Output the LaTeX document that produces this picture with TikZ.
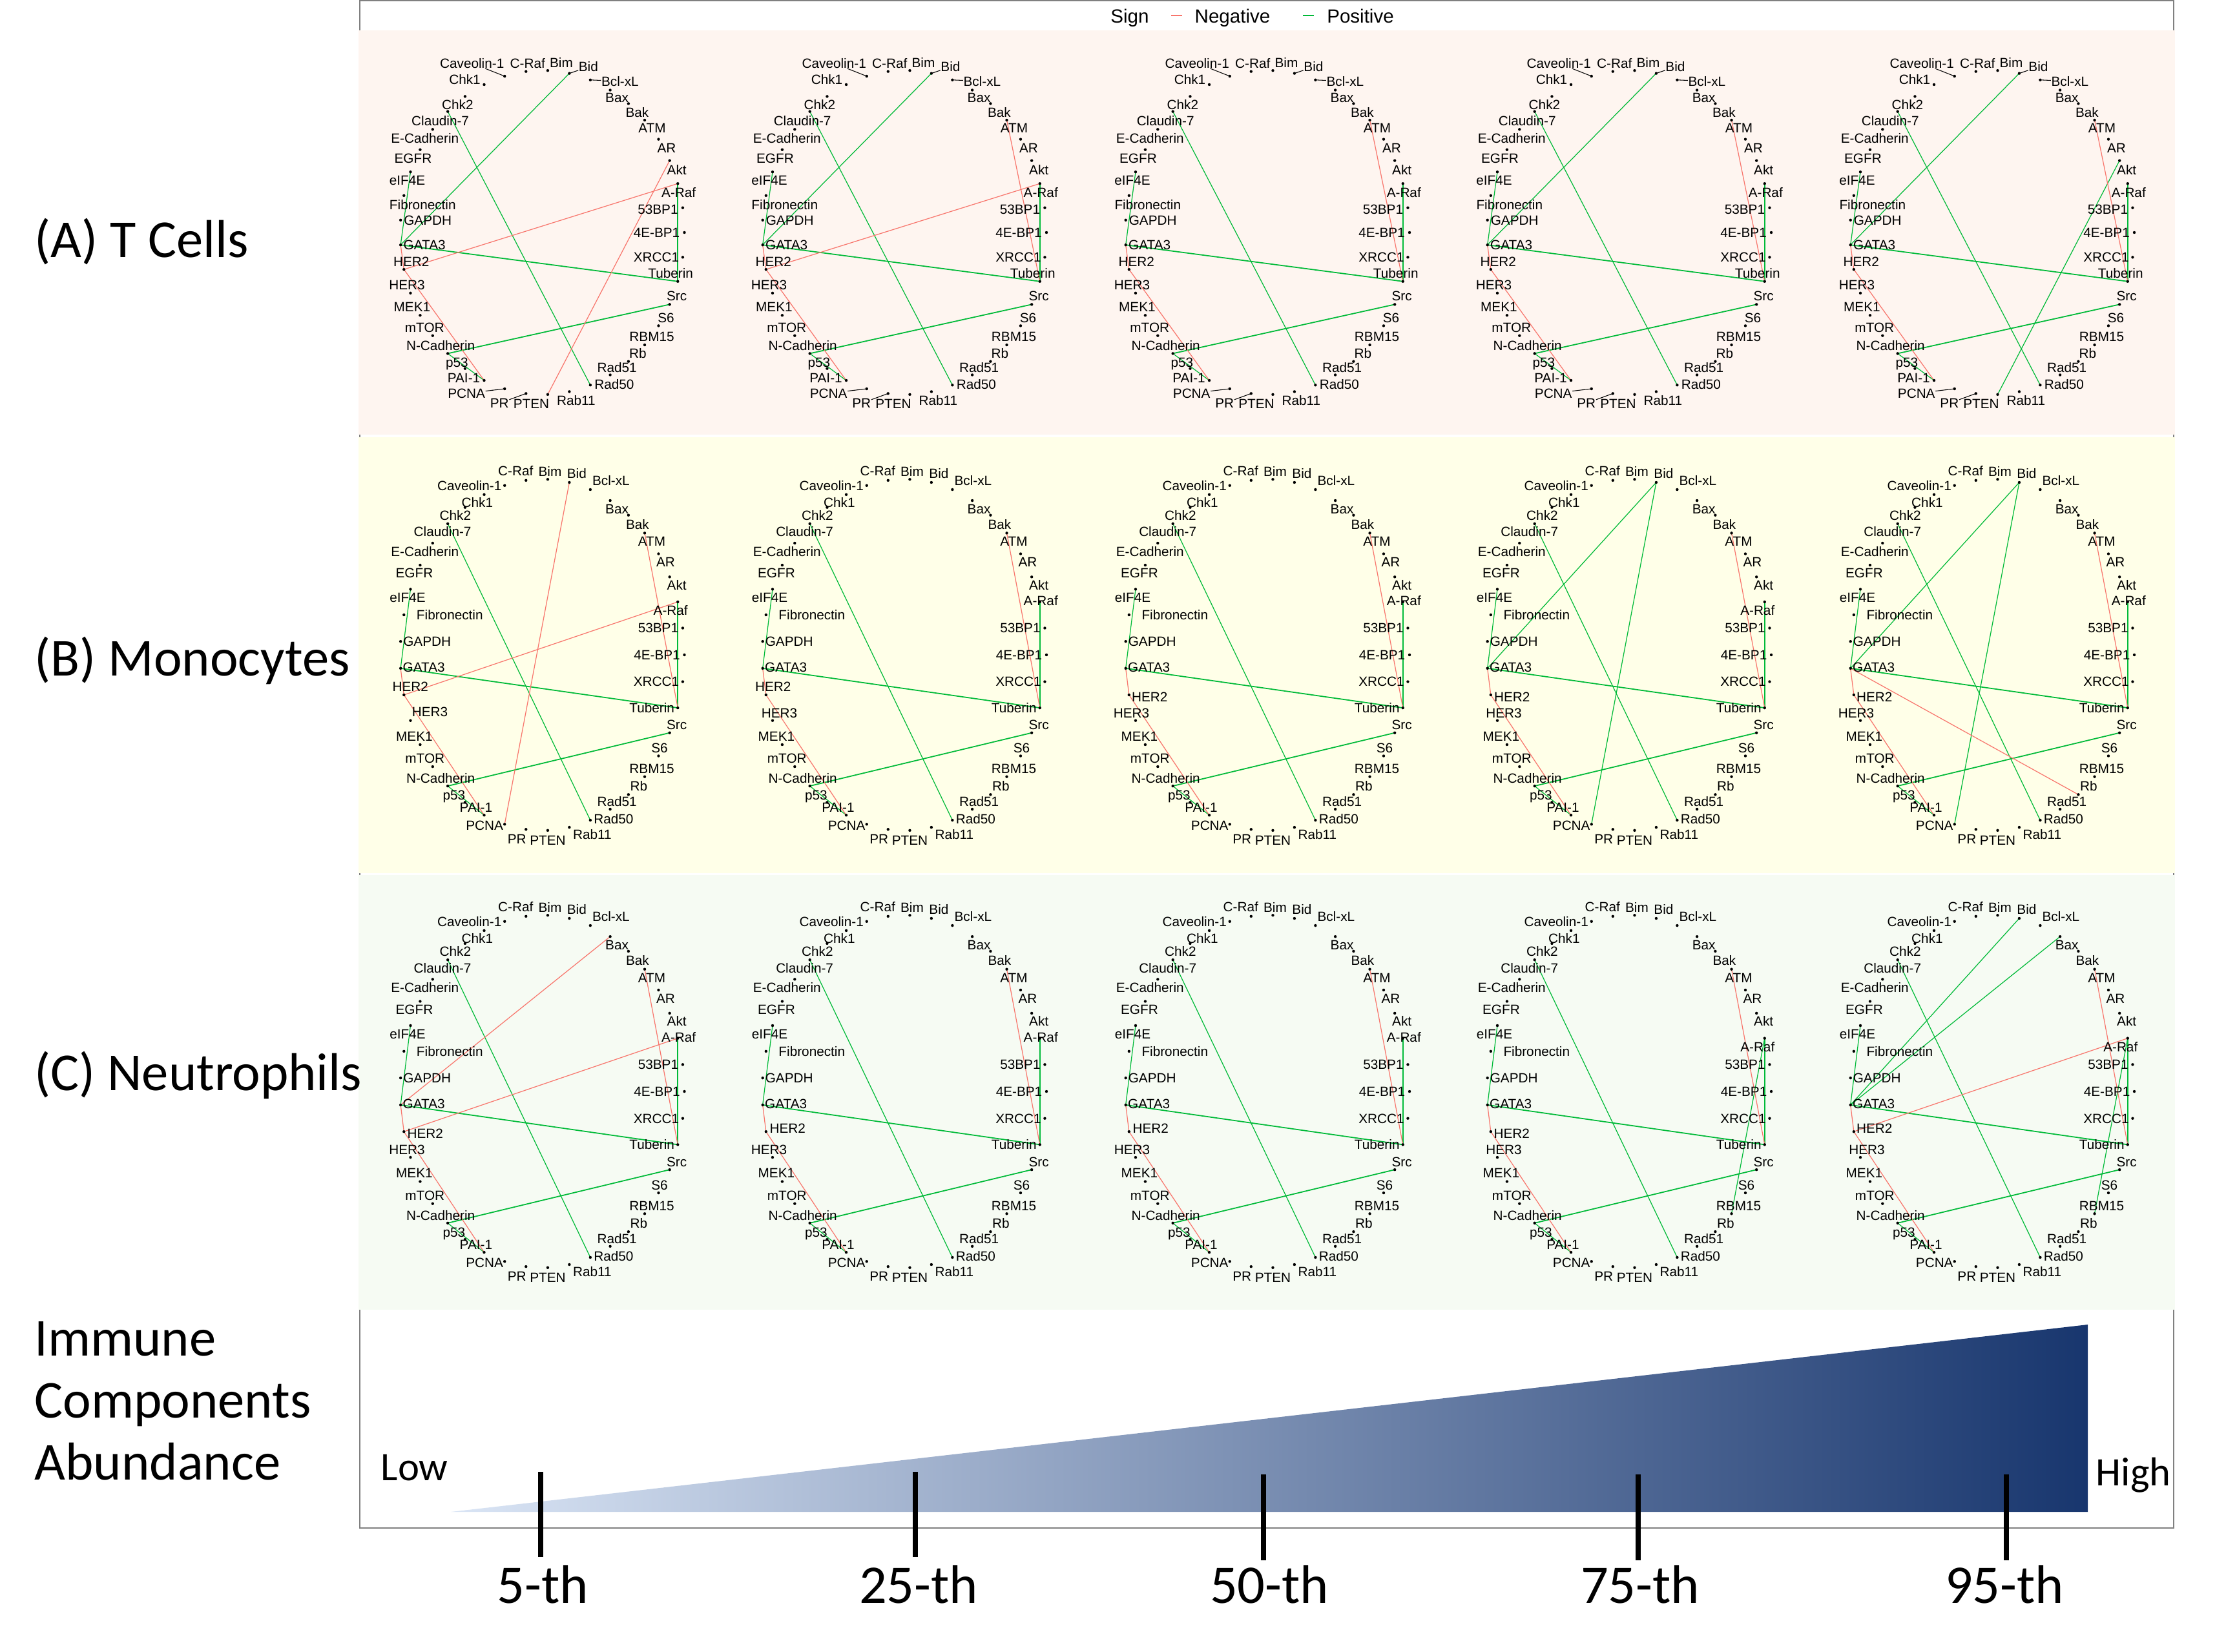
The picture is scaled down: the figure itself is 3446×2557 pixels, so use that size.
\documentclass[tikz,border=0pt]{standalone}
\usepackage{fontspec}
\setmainfont{Liberation Sans}
\newfontfamily\calfont{Carlito}
\pgfdeclarelayer{bg}
\pgfdeclarelayer{edges}
\pgfsetlayers{bg,edges,main}
\definecolor{negcol}{HTML}{F8766D}
\definecolor{poscol}{HTML}{00BA38}
\definecolor{bgA}{RGB}{254,245,240}
\definecolor{bgB}{RGB}{255,255,232}
\definecolor{bgC}{RGB}{246,251,243}
\definecolor{framegray}{RGB}{128,128,128}
\definecolor{gradL}{RGB}{218,229,245}
\definecolor{gradR}{RGB}{24,54,110}
\tikzset{
  dotnode/.style={circle,fill=black,inner sep=0pt,minimum size=1.25pt},
  netlab/.style={font=\fontsize{5.9}{6}\selectfont,inner sep=0pt,text height=4.2pt,text depth=0pt},
  leader/.style={draw=black,line width=0.3pt},
  posE/.style={draw=poscol,line width=0.35pt},
  posT/.style={draw=poscol,line width=0.5pt},
  negE/.style={draw=negcol,line width=0.35pt},
  sidelab/.style={font=\calfont\fontsize{23.5}{28}\selectfont,inner sep=0pt,anchor=base west},
  ticklab/.style={font=\calfont\fontsize{24}{28}\selectfont,inner sep=0pt,anchor=base},
  endlab/.style={font=\calfont\fontsize{17.8}{20}\selectfont,inner sep=0pt,anchor=base west},
  legtext/.style={font=\fontsize{8.4}{10}\selectfont,inner sep=0pt,anchor=base},
  tickline/.style={line width=2.3pt,draw=black},
}
\def\netnodes{0/4E-BP1/-43/0/-42.5/0, 1/53BP1/-38.5/2.5/-38/0, 2/A-Raf/1.5/14/-11/13.5, 3/Akt/11/14/11/12.5, 4/AR/12.5/14/11/13, 5/ATM/11.5/12/11/13, 6/Bak/13.5/13.5/14/14, 7/Bax/10.5/11.5/10.5/13, 8/Bcl-xL/46/2/32/-14, 9/Bid/29.5/-10/11.5/-14, 10/Bim/21/-12/3.5/-12.5, 11/C-Raf/2.5/-13/-16/-15, 12/Caveolin-1/-50.5/-20/-54.5/0, 13/Chk1/-30/-7.5/-10.6/12.4, 14/Chk2/-11.5/13/-15/12, 15/Claudin-7/-11.5/14/-8/12.6, 16/E-Cadherin/-12/13.5/-12/13, 17/EGFR/-11/13/-9/12.5, 18/eIF4E/-5/13/-4.5/13, 19/Fibronectin/29/14/71/0, 20/GAPDH/42/0/41/0, 21/GATA3/37/0/36/-2, 22/HER2/11.5/-12.4/10/-13, 23/HER3/-5.5/-12.5/30/-13.7, 24/MEK1/-12.5/-13/-9/-13, 25/mTOR/-12.5/-13/-12/-13, 26/N-Cadherin/-11/-12.5/-11/-12, 27/p53/-12.5/-10/-17/-11.5, 28/PAI-1/-31.5/-4/-12.6/-11.7, 29/PCNA/-59/7/-31/1.5, 30/PR/-41/15/-14/14.5, 31/PTEN/-25.5/14/0/15.6, 32/Rab11/10.5/14/35.5/10.7, 33/Rad50/37/-1/36/-2, 34/Rad51/10.5/-11/10.5/-12, 35/Rb/14.5/-13/16/-13, 36/RBM15/11/-13/11/-12.6, 37/S6/11.5/-12/1.5/-12, 38/Src/11/-13/11/-12.5, 39/Tuberin/-11/-13/-40/0, 40/XRCC1/-41/0/-41/0}
\newcommand\setov[6]{\def\oAx{#1}\def\oAy{#2}\def\oBx{#3}\def\oBy{#4}\def\oCx{#5}\def\oCy{#6}}
\newcommand\netpanel[5]{%
  \foreach \i/\lab/\ax/\ay/\bx/\by in \netnodes {%
    \pgfmathsetmacro\px{#2+220*cos(360*\i/41)}%
    \pgfmathsetmacro\py{#3-#4*sin(360*\i/41)}%
    \ifx A#5 \edef\dx{\ax}\edef\dy{\ay}\else \edef\dx{\bx}\edef\dy{\by}\fi
    \ifnum\i=2 \edef\dx{\oAx}\edef\dy{\oAy}\fi
    \ifnum\i=22 \edef\dx{\oBx}\edef\dy{\oBy}\fi
    \ifnum\i=23 \edef\dx{\oCx}\edef\dy{\oCy}\fi
    \node[dotnode] (#1-\i) at (\px,\py) {};
    \node[netlab] (#1-l\i) at ({\px+(\dx)},{\py+(\dy)}) {\lab};
  }%
  \ifx A#5
    \foreach \j in {8,9,12,29,30} {\draw[leader] (#1-\j.center) -- (#1-l\j);}
  \fi
}
\newcommand\commonedges[1]{%
  \draw[posE] (#1-18.center) -- (#1-21.center);
  \draw[posT] (#1-21.center) -- (#1-39.center);
  \draw[posE,line width=0.45pt] (#1-2.center) -- (#1-39.center);
  \draw[posT] (#1-26.center) -- (#1-38.center);
  \draw[posE] (#1-26.center) -- (#1-28.center);
  \draw[posE] (#1-15.center) -- (#1-33.center);
  \draw[negE] (#1-21.center) -- (#1-22.center);
  \draw[negE] (#1-22.center) -- (#1-28.center);
}
\newcommand\pedge[3]{\draw[posE] (#1-#2.center) -- (#1-#3.center);}
\newcommand\nedge[3]{\draw[negE] (#1-#2.center) -- (#1-#3.center);}
\begin{document}
\begin{tikzpicture}[x=0.01cm,y=-0.01cm]
\useasboundingbox (0,0) rectangle (3446,2557);
\begin{pgfonlayer}{bg}
  \fill[white] (0,0) rectangle (3446,2557);
  \draw[framegray,line width=0.8pt] (557,1) rectangle (3365,2366);
  \fill[bgA] (555,47) rectangle (3367,673);
  \fill[bgB] (555,677) rectangle (3367,1352);
  \fill[bgC] (555,1355) rectangle (3367,2028);
\end{pgfonlayer}

% legend
\node[legtext] (lgSign) at (1749,35.5) {Sign};
\coordinate (lgNa) at (1813,24); \coordinate (lgNb) at (1830,24);
\draw[negcol,line width=0.5pt] (lgNa) -- (lgNb);
\node[legtext] (lgNeg) at (1908,35.5) {Negative};
\coordinate (lgPa) at (2017,24); \coordinate (lgPb) at (2034,24);
\draw[poscol,line width=0.5pt] (lgPa) -- (lgPb);
\node[legtext] (lgPos) at (2106,35.5) {Positive};

% side labels
\node[sidelab] (labA) at (53,398) {(A) T Cells};
\node[sidelab] (labB) at (53,1046) {(B) Monocytes};
\node[sidelab] (labC) at (53,1688) {(C) Neutrophils};
\node[sidelab] (labD1) at (53,2099) {Immune};
\node[sidelab] (labD2) at (53,2195) {Components};
\node[sidelab] (labD3) at (53,2291) {Abundance};

% panels row A
\setov{1.5}{14}{11.5}{-12.4}{-5.5}{-12.5}
\netpanel{a1}{839.5}{360}{251}{A}
\netpanel{a2}{1400}{360}{251}{A}
\netpanel{a3}{1962}{360}{251}{A}
\netpanel{a4}{2522}{360}{251}{A}
\netpanel{a5}{3084}{360}{251}{A}
% row B
\setov{-11}{13.5}{10}{-13}{30}{-13.7}
\netpanel{b1}{839.5}{1014}{272}{B}
\setov{1.5}{-2}{11}{-13}{10.5}{-12}
\netpanel{b2}{1400}{1014}{272}{B}
\setov{1.5}{-2}{32}{3}{-6.5}{-12}
\netpanel{b3}{1962}{1014}{272}{B}
\setov{-11}{13.5}{33}{3}{10}{-12}
\netpanel{b4}{2522}{1014}{272}{B}
\setov{1.5}{-2}{32}{3}{-6.5}{-12}
\netpanel{b5}{3084}{1014}{272}{B}
% row C
\setov{1.5}{-2}{33}{3}{-5.5}{-12}
\netpanel{c1}{839.5}{1690}{273}{B}
\setov{1.5}{-2}{33.5}{-5}{-5.5}{-12}
\netpanel{c2}{1400}{1690}{273}{B}
\netpanel{c3}{1962}{1690}{273}{B}
\setov{-11}{13.5}{32.5}{3}{10}{-12}
\netpanel{c4}{2522}{1690}{273}{B}
\setov{-11}{13.5}{32}{-5}{10}{-12}
\netpanel{c5}{3084}{1690}{273}{B}

\begin{pgfonlayer}{edges}
  \foreach \p in {a1,a2,a3,a4,a5,b1,b2,b3,b4,b5,c1,c2,c3,c4,c5} {\commonedges{\p}}
  % A1
  \pedge{a1}{9}{21} \nedge{a1}{22}{2} \nedge{a1}{31}{3}
  % A2
  \pedge{a2}{9}{21} \nedge{a2}{22}{2} \nedge{a2}{5}{39}
  % A3
  \nedge{a3}{5}{39}
  % A4
  \pedge{a4}{9}{21} \nedge{a4}{5}{39}
  % A5
  \pedge{a5}{9}{21} \pedge{a5}{3}{31} \nedge{a5}{5}{39}
  % B1
  \nedge{b1}{9}{29} \nedge{b1}{22}{2} \nedge{b1}{5}{39}
  % B2, B3
  \nedge{b2}{5}{39} \nedge{b3}{5}{39}
  % B4
  \pedge{b4}{9}{21} \pedge{b4}{9}{29} \nedge{b4}{5}{39}
  % B5
  \pedge{b5}{9}{21} \pedge{b5}{9}{29} \nedge{b5}{21}{35} \nedge{b5}{5}{39}
  % C1
  \nedge{c1}{21}{7} \nedge{c1}{22}{2} \nedge{c1}{5}{39}
  % C2, C3
  \nedge{c2}{5}{39} \nedge{c3}{5}{39}
  % C4
  \pedge{c4}{2}{36} \nedge{c4}{5}{39}
  % C5
  \pedge{c5}{9}{21} \pedge{c5}{7}{21} \pedge{c5}{2}{36} \nedge{c5}{22}{2} \nedge{c5}{5}{39}
\end{pgfonlayer}

% abundance gradient
\shade[left color=gradL,right color=gradR] (698,2341) -- (3232,2051) -- (3232,2341) -- cycle;
\node[endlab] (low) at (589,2292) {Low};
\node[endlab] (high) at (3244,2300) {High};
\foreach \k/\tx/\ta/\tb/\tl/\lx in {1/837/2279/2411/5-th/840, 2/1417/2279/2411/25-th/1422, 3/1956/2283/2416/50-th/1965, 4/2536/2283/2416/75-th/2539, 5/3106/2283/2416/95-th/3103} {
  \coordinate (tk\k a) at (\tx,\ta);
  \coordinate (tk\k b) at (\tx,\tb);
  \draw[tickline] (tk\k a) -- (tk\k b);
  \node[ticklab] (tl\k) at (\lx,2482) {\tl};
}
\end{tikzpicture}
\end{document}
